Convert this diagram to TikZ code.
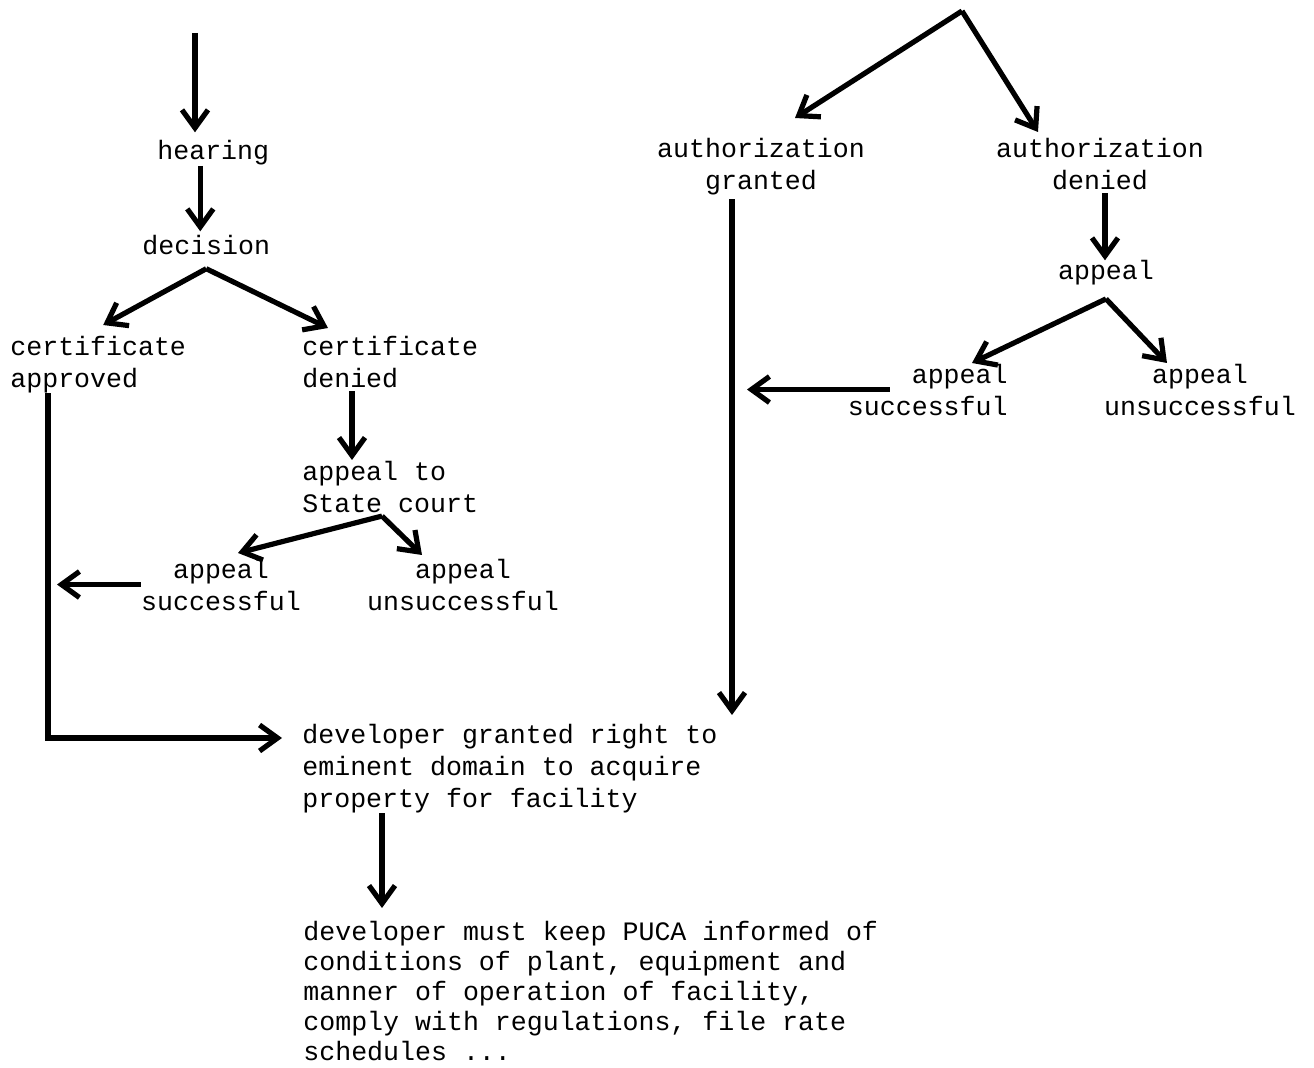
\documentclass[tikz,border=0pt]{standalone}
\usepackage{fontspec}
\setmainfont{Liberation Mono}
\usetikzlibrary{arrows.meta,calc}
\newcommand\mystrut{\rule{0pt}{10pt}}
\begin{document}
\begin{tikzpicture}[x=0.5pt,y=-0.5pt,
  lbl/.style={inner sep=0pt, font=\fontsize{13.3}{16}\selectfont},
  arr/.style={line width=2.6pt, -{Straight Barb[length=9pt,width=13pt]}}]
\useasboundingbox (0,0) rectangle (1314,1068);

% ---------- left column ----------
\node[lbl, anchor=base west] (hearing) at (157,160) {hearing};
\node[lbl, anchor=base west] (decision) at (142,255) {decision};
\node[lbl, anchor=north west, align=left] (certA) at (10,335) {\mystrut certificate\\approved};
\node[lbl, anchor=north west, align=left] (certD) at (302,335) {\mystrut certificate\\denied};
\node[lbl, anchor=north west, align=left] (stc) at (302,460) {\mystrut appeal to\\State court};
\node[lbl, anchor=north, align=center] (apsL) at (221,558) {\mystrut appeal\\successful};
\node[lbl, anchor=north, align=center] (apuL) at (463,558) {\mystrut appeal\\unsuccessful};
\node[lbl, anchor=north west, align=left] (devA) at (302,723) {\mystrut developer granted right to\\eminent domain to acquire\\property for facility};
\node[lbl, anchor=north west, align=left, font=\fontsize{13.3}{15}\selectfont] (bot) at (303,920) {\mystrut developer must keep PUCA informed of\\conditions of plant, equipment and\\manner of operation of facility,\\comply with regulations, file rate\\schedules ...};

% ---------- right column ----------
\node[lbl, anchor=north, align=center] (authG) at (761,137) {\mystrut authorization\\granted};
\node[lbl, anchor=north, align=center] (authD) at (1100,137) {\mystrut authorization\\denied};
\node[lbl, anchor=base] (appealR) at (1106,280) {appeal};
\node[lbl, anchor=north east, align=right] (apsR) at (1008,363) {\mystrut appeal\\successful};
\node[lbl, anchor=north, align=center] (apuR) at (1200,363) {\mystrut appeal\\unsuccessful};

% ---------- connectors, left ----------
\coordinate (topL) at (195,33);
\draw[arr, shorten >=4pt] (topL) -- (topL |- hearing.north);
\coordinate (h1) at ([xshift=-6.5pt]hearing.south);
\draw[arr, shorten >=2pt] (h1) -- (h1 |- decision.north);
\coordinate (decB) at ([yshift=-6.5pt]decision.south);
\draw[arr] (decB) -- ([xshift=2.5pt,yshift=5pt]certA.north);
\draw[arr] (decB) -- ([xshift=13pt,yshift=3.5pt]certD.north west);
\coordinate (aprv) at ([xshift=19pt]certA.south west);
\draw[arr, shorten >=10pt] (aprv) |- ([yshift=-7.5pt]devA.north west);
\coordinate (den1) at ([xshift=25pt,yshift=-1.5pt]certD.south west);
\draw[arr] (den1) -- (den1 |- stc.north);
\coordinate (stcB) at ([xshift=40pt,yshift=-1.5pt]stc.south west);
\draw[arr] (stcB) -- ([xshift=8.5pt,yshift=2.5pt]apsL.north);
\draw[arr] (stcB) -- ([xshift=-20.5pt,yshift=1.5pt]apuL.north);
\draw[arr, shorten >=4.5pt] (apsL.west) -- (apsL.west -| aprv);
\coordinate (dev1) at ([xshift=40pt]devA.south west);
\draw[arr, shorten >=6pt] (dev1) -- (dev1 |- bot.north);

% ---------- connectors, right ----------
\coordinate (topR) at (962,11);
\draw[arr] (topR) -- ([xshift=17pt,yshift=9.5pt]authG.north);
\draw[arr] (topR) -- ([xshift=-31pt,yshift=2.5pt]authD.north);
\coordinate (gr1) at ([xshift=-14.5pt,yshift=-2pt]authG.south);
\draw[arr, shorten >=4pt] (gr1) -- (gr1 |- devA.north);
\coordinate (dn1) at ([xshift=2.5pt,yshift=-1.5pt]authD.south);
\draw[arr] (dn1) -- (dn1 |- appealR.north);
\coordinate (apB) at ([yshift=-6.5pt]appealR.south);
\draw[arr] (apB) -- ([xshift=-18pt]apsR.north east);
\draw[arr] (apB) -- ([xshift=-16.5pt]apuR.north);
\draw[arr, shorten >=7.5pt] ([xshift=21pt]apsR.west) -- (apsR.west -| gr1);
\end{tikzpicture}
\end{document}
